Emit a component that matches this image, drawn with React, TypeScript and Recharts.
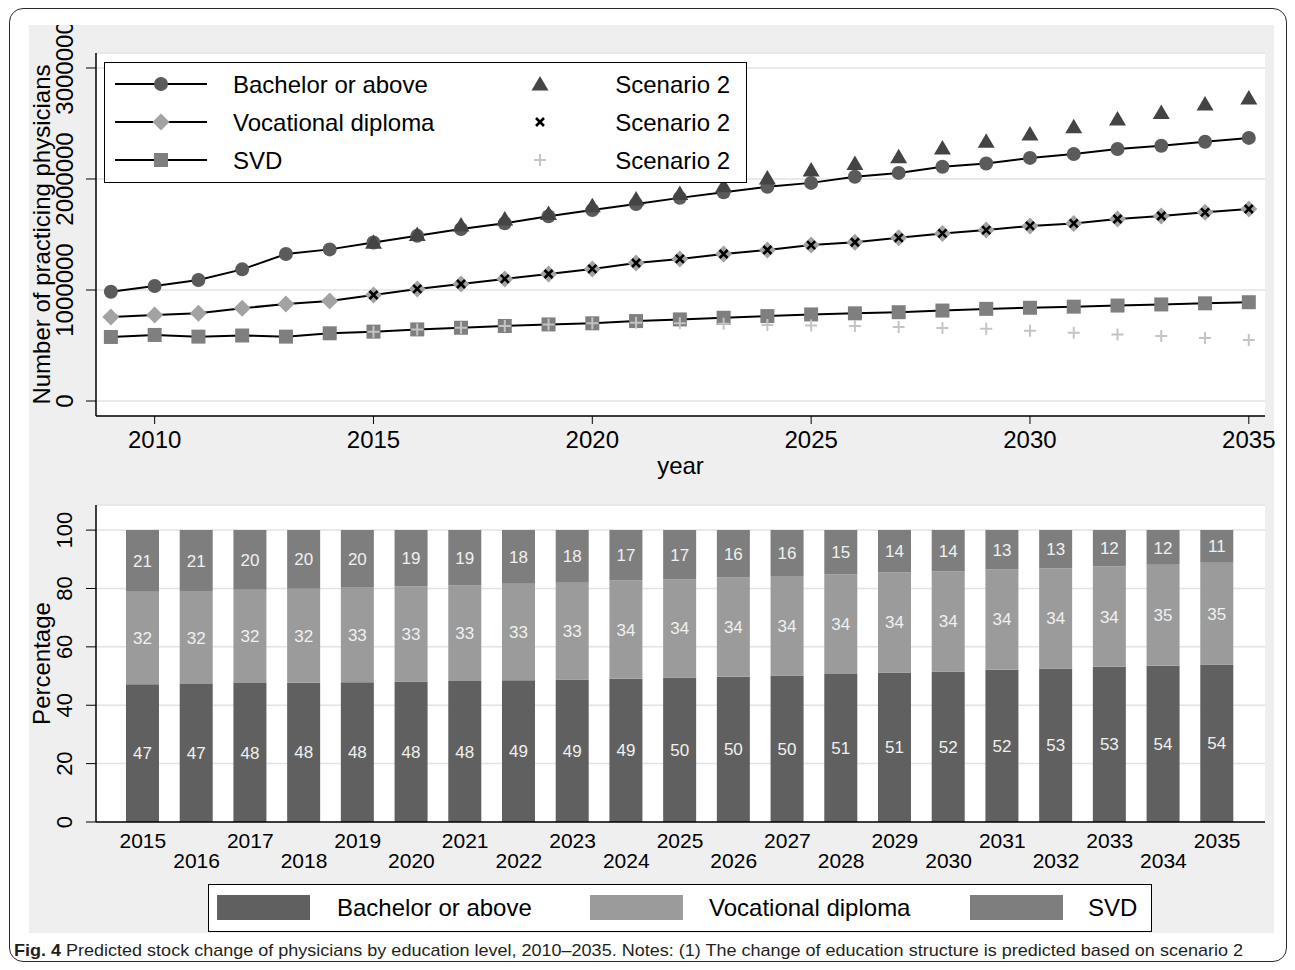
import React from "react";
import {
  LineChart,
  Line,
  BarChart,
  Bar,
  XAxis,
  YAxis,
  CartesianGrid,
  LabelList,
} from "recharts";

const FONT = '"Liberation Sans", Arial, Helvetica, sans-serif';

// ---- top panel: number of practicing physicians ----
const years = [
  2009, 2010, 2011, 2012, 2013, 2014, 2015, 2016, 2017, 2018, 2019, 2020, 2021, 2022,
  2023, 2024, 2025, 2026, 2027, 2028, 2029, 2030, 2031, 2032, 2033, 2034, 2035,
];
const bachelor = [
  984000, 1036000, 1090000, 1186000, 1324000, 1366000, 1428000, 1488000, 1550000,
  1602000, 1665000, 1720000, 1775000, 1830000, 1880000, 1930000, 1965000, 2020000,
  2055000, 2110000, 2140000, 2190000, 2225000, 2270000, 2300000, 2335000, 2370000,
];
const vocational = [
  757000, 775000, 790000, 835000, 875000, 900000, 955000, 1010000, 1054000, 1100000,
  1144000, 1190000, 1243000, 1280000, 1324000, 1360000, 1405000, 1430000, 1470000,
  1510000, 1540000, 1577000, 1600000, 1640000, 1667000, 1700000, 1730000,
];
const svd = [
  577000, 595000, 580000, 590000, 580000, 610000, 625000, 645000, 660000, 676000,
  690000, 700000, 720000, 735000, 750000, 765000, 780000, 790000, 800000, 815000,
  830000, 840000, 850000, 860000, 870000, 880000, 890000,
];

// scenario 2, 2015-2035
const scenarioYears = [
  2015, 2016, 2017, 2018, 2019, 2020, 2021, 2022, 2023, 2024, 2025, 2026, 2027, 2028,
  2029, 2030, 2031, 2032, 2033, 2034, 2035,
];
const bachelorS2 = [
  1430000, 1500000, 1585000, 1640000, 1690000, 1760000, 1820000, 1870000, 1940000,
  2010000, 2080000, 2140000, 2200000, 2280000, 2340000, 2405000, 2470000, 2540000,
  2600000, 2675000, 2730000,
];
const vocationalS2 = [
  955000, 1010000, 1054000, 1100000, 1144000, 1190000, 1243000, 1280000, 1324000,
  1360000, 1405000, 1430000, 1470000, 1510000, 1540000, 1577000, 1600000, 1640000,
  1667000, 1700000, 1730000,
];
const svdS2 = [
  625000, 645000, 660000, 675000, 690000, 700000, 705000, 700000, 695000, 685000,
  680000, 675000, 667000, 658000, 650000, 632000, 615000, 600000, 585000, 568000,
  550000,
];

const stockTicks = [0, 1000000, 2000000, 3000000];
const yearTicks = [2010, 2015, 2020, 2025, 2030, 2035];

// ---- bottom panel: education structure (%) ----
const barYears = [
  "2015", "2016", "2017", "2018", "2019", "2020", "2021", "2022", "2023", "2024", "2025",
  "2026", "2027", "2028", "2029", "2030", "2031", "2032", "2033", "2034", "2035",
];
const pctBachelor = [
  47.2, 47.3, 47.6, 47.7, 47.9, 48.1, 48.3, 48.6, 48.8, 49.1, 49.5, 49.8, 50.2, 50.7,
  51.2, 51.6, 52.2, 52.6, 53.2, 53.5, 54.0,
];
const pctVocational = [
  31.7, 31.8, 32.0, 32.2, 32.6, 32.7, 32.8, 33.0, 33.2, 33.6, 33.7, 34.0, 34.1, 34.1,
  34.4, 34.3, 34.4, 34.3, 34.4, 34.6, 34.8,
];
const pctSvd = [
  21.1, 20.9, 20.4, 20.1, 19.5, 19.2, 18.9, 18.4, 18.0, 17.3, 16.8, 16.2, 15.7, 15.2,
  14.4, 14.1, 13.4, 13.1, 12.4, 11.9, 11.2,
];
const pctTicks = [0, 20, 40, 60, 80, 100];

const stockData = years.map((year, i) => {
  const j = scenarioYears.indexOf(year);
  return {
    year,
    bachelor: bachelor[i],
    vocational: vocational[i],
    svd: svd[i],
    bachelorS2: j >= 0 ? bachelorS2[j] : null,
    vocationalS2: j >= 0 ? vocationalS2[j] : null,
    svdS2: j >= 0 ? svdS2[j] : null,
  };
});

const barData = barYears.map((year, i) => ({
  year,
  bachelor: pctBachelor[i],
  vocational: pctVocational[i],
  svd: pctSvd[i],
}));

// markers
type Pt = { cx: number; cy: number };
const CircleMark = ({ cx, cy }: Pt) => <circle cx={cx} cy={cy} r={7} fill="#5b5b5b" />;
const DiamondMark = ({ cx, cy }: Pt) => (
  <polygon
    points={`${cx},${cy - 8.5} ${cx + 8.5},${cy} ${cx},${cy + 8.5} ${cx - 8.5},${cy}`}
    fill="#a2a2a2"
  />
);
const SquareMark = ({ cx, cy }: Pt) => (
  <rect x={cx - 7} y={cy - 7} width={14} height={14} fill="#7f7f7f" />
);
const TriangleMark = ({ cx, cy }: Pt) => (
  <polygon
    points={`${cx},${cy - 8} ${cx + 8.5},${cy + 6.5} ${cx - 8.5},${cy + 6.5}`}
    fill="#444"
  />
);
const CrossMark = ({ cx, cy }: Pt) => (
  <path
    d={`M${cx - 4} ${cy - 4}L${cx + 4} ${cy + 4}M${cx + 4} ${cy - 4}L${cx - 4} ${cy + 4}`}
    stroke="#000"
    strokeWidth={2.6}
  />
);
const PlusMark = ({ cx, cy }: Pt) => (
  <path
    d={`M${cx - 6} ${cy}H${cx + 6}M${cx} ${cy - 6}V${cy + 6}`}
    stroke="#c4c4c4"
    strokeWidth={2}
  />
);

const lineDot = (Shape: (p: Pt) => React.ReactElement) => (p: any) => {
  if (!p || p.cx == null || p.cy == null || p.value == null)
    return <g key={`e-${p?.index}`} />;
  return <Shape key={`d-${p.index}`} cx={p.cx} cy={p.cy} />;
};

// rotated (Stata style) y tick labels
const RotTick = (p: any) => {
  const cx = 35;
  return (
    <text
      x={cx}
      y={p.y}
      dy="0.36em"
      transform={`rotate(-90 ${cx} ${p.y})`}
      textAnchor="middle"
      fontSize={p.size}
      fontFamily={FONT}
      fill="#000"
    >
      {p.payload.value}
    </text>
  );
};

const YearTick = (p: any) => (
  <text x={p.x} y={p.y + 22} textAnchor="middle" fontSize={24} fontFamily={FONT} fill="#000">
    {p.payload.value}
  </text>
);

const BarYearTick = (p: any) => {
  const row = p.index % 2 === 0 ? 18 : 38;
  return (
    <text
      x={p.x}
      y={p.y + row + 7.5}
      textAnchor="middle"
      fontSize={21}
      fontFamily={FONT}
      fill="#000"
    >
      {p.payload.value}
    </text>
  );
};

const yTitle = (text: string) => (props: any) => {
  const vb = props.viewBox || { x: 0, y: 0, width: 0, height: 0 };
  const x = vb.x + 12.5;
  const y = vb.y + vb.height / 2;
  return (
    <text
      x={x}
      y={y}
      transform={`rotate(-90 ${x} ${y})`}
      textAnchor="middle"
      dominantBaseline="central"
      fontSize={24}
      fontFamily={FONT}
      fill="#000"
    >
      {text}
    </text>
  );
};

const xTitle = (text: string) => (props: any) => {
  const vb = props.viewBox || { x: 0, y: 0, width: 0, height: 0 };
  return (
    <text
      x={vb.x + vb.width / 2}
      y={vb.y + 58}
      textAnchor="middle"
      fontSize={24}
      fontFamily={FONT}
      fill="#000"
    >
      {text}
    </text>
  );
};

const TopLegend = () => {
  const rows = [
    { label: "Bachelor or above", Mark: CircleMark, S2: TriangleMark },
    { label: "Vocational diploma", Mark: DiamondMark, S2: CrossMark },
    { label: "SVD", Mark: SquareMark, S2: PlusMark },
  ];
  return (
    <div
      style={{
        position: "absolute",
        left: 75,
        top: 37,
        width: 643,
        height: 121,
        boxSizing: "border-box",
        border: "1.5px solid #000",
        background: "#fff",
      }}
    >
      <svg width={640} height={118} style={{ display: "block" }}>
        {rows.map((r, i) => {
          const y = 21 + i * 38;
          return (
            <g key={r.label}>
              <line x1={10} x2={102} y1={y} y2={y} stroke="#000" strokeWidth={2} />
              <r.Mark cx={56} cy={y} />
              <text x={128} y={y + 8.5} fontSize={24} fontFamily={FONT} fill="#000">
                {r.label}
              </text>
              <r.S2 cx={435} cy={y} />
              <text
                x={625}
                y={y + 8.5}
                textAnchor="end"
                fontSize={24}
                fontFamily={FONT}
                fill="#000"
              >
                Scenario 2
              </text>
            </g>
          );
        })}
      </svg>
    </div>
  );
};

const BottomLegend = () => {
  const items = [
    { label: "Bachelor or above", color: "#606060", sx: 8, tx: 128 },
    { label: "Vocational diploma", color: "#9b9b9b", sx: 381, tx: 500 },
    { label: "SVD", color: "#7e7e7e", sx: 761, tx: 879 },
  ];
  return (
    <div
      style={{
        position: "absolute",
        left: 179,
        top: 859,
        width: 944,
        height: 48,
        boxSizing: "border-box",
        border: "1.5px solid #000",
        background: "#fff",
      }}
    >
      <svg width={941} height={45} style={{ display: "block" }}>
        {items.map((it) => (
          <g key={it.label}>
            <rect x={it.sx} y={10} width={93} height={25} fill={it.color} />
            <text x={it.tx} y={31} fontSize={24} fontFamily={FONT} fill="#000">
              {it.label}
            </text>
          </g>
        ))}
      </svg>
    </div>
  );
};

export default function App() {
  return (
    <div style={{ position: "relative", width: 1279, height: 954, fontFamily: FONT }}>
      <style>{`.recharts-surface { overflow: visible; }`}</style>
      <div
        style={{
          position: "absolute",
          left: 1,
          top: 0,
          width: 1278,
          height: 954,
          boxSizing: "border-box",
          border: "1.5px solid #2b2b2b",
          borderRadius: 14,
        }}
      />
      <div
        style={{
          position: "absolute",
          left: 21,
          top: 17,
          width: 1245,
          height: 908,
          background: "#efefef",
          clipPath: "inset(0px -12px -12px -12px)",
        }}
      >
        <div style={{ position: "absolute", left: 0, top: 0 }}>
          <LineChart
            width={1245}
            height={470}
            data={stockData}
            margin={{ top: 28, right: 9, left: 0, bottom: 19 }}
          >
            <CartesianGrid vertical={false} stroke="#e3e3e3" strokeWidth={1.5} fill="#fff" />
            <XAxis
              dataKey="year"
              type="number"
              domain={[2008.66, 2035.37]}
              ticks={yearTicks}
              allowDataOverflow
              stroke="#000"
              axisLine={{ strokeWidth: 1.5 }}
              tickSize={8}
              tick={(p: any) => <YearTick {...p} />}
              height={60}
              label={xTitle("year")}
            />
            <YAxis
              type="number"
              domain={[-135000, 3135000]}
              ticks={stockTicks}
              allowDataOverflow
              width={67}
              stroke="#000"
              axisLine={{ strokeWidth: 1.5 }}
              tickSize={10}
              tick={(p: any) => <RotTick {...p} size={24} />}
              label={yTitle("Number of practicing physicians")}
            />
            <Line
              dataKey="bachelor"
              stroke="#000"
              strokeWidth={2}
              dot={lineDot(CircleMark)}
              activeDot={false}
              isAnimationActive={false}
            />
            <Line
              dataKey="vocational"
              stroke="#000"
              strokeWidth={2}
              dot={lineDot(DiamondMark)}
              activeDot={false}
              isAnimationActive={false}
            />
            <Line
              dataKey="svd"
              stroke="#000"
              strokeWidth={2}
              dot={lineDot(SquareMark)}
              activeDot={false}
              isAnimationActive={false}
            />
            <Line
              dataKey="bachelorS2"
              stroke="none"
              dot={lineDot(TriangleMark)}
              activeDot={false}
              isAnimationActive={false}
            />
            <Line
              dataKey="vocationalS2"
              stroke="none"
              dot={lineDot(CrossMark)}
              activeDot={false}
              isAnimationActive={false}
            />
            <Line
              dataKey="svdS2"
              stroke="none"
              dot={lineDot(PlusMark)}
              activeDot={false}
              isAnimationActive={false}
            />
          </LineChart>
        </div>
        <TopLegend />

        <div style={{ position: "absolute", left: 0, top: 470 }}>
          <BarChart
            width={1245}
            height={438}
            data={barData}
            margin={{ top: 10, right: 9, left: 0, bottom: 61 }}
          >
            <CartesianGrid vertical={false} stroke="#e3e3e3" strokeWidth={1.5} fill="#fff" />
            <XAxis
              dataKey="year"
              interval={0}
              padding={{ left: 20, right: 21 }}
              stroke="#000"
              axisLine={{ strokeWidth: 1.5 }}
              tickLine={false}
              tickSize={0}
              tickMargin={0}
              tick={(p: any) => <BarYearTick {...p} />}
              height={50}
            />
            <YAxis
              type="number"
              domain={[0, 108.6]}
              ticks={pctTicks}
              allowDataOverflow
              width={67}
              stroke="#000"
              axisLine={{ strokeWidth: 1.5 }}
              tickSize={10}
              tick={(p: any) => <RotTick {...p} size={22} />}
              label={yTitle("Percentage")}
            />
            <Bar dataKey="bachelor" stackId="a" fill="#606060" barSize={33} isAnimationActive={false}>
              <LabelList
                dataKey="bachelor"
                position="center"
                formatter={(v: any) => Math.round(Number(v))}
                fill="#f0f0f0"
                fontSize={17}
                fontFamily={FONT}
              />
            </Bar>
            <Bar dataKey="vocational" stackId="a" fill="#9b9b9b" barSize={33} isAnimationActive={false}>
              <LabelList
                dataKey="vocational"
                position="center"
                formatter={(v: any) => Math.round(Number(v))}
                fill="#f0f0f0"
                fontSize={17}
                fontFamily={FONT}
              />
            </Bar>
            <Bar dataKey="svd" stackId="a" fill="#7e7e7e" barSize={33} isAnimationActive={false}>
              <LabelList
                dataKey="svd"
                position="center"
                formatter={(v: any) => Math.round(Number(v))}
                fill="#f0f0f0"
                fontSize={17}
                fontFamily={FONT}
              />
            </Bar>
          </BarChart>
        </div>
        <BottomLegend />
      </div>

      <svg
        width={1279}
        height={22}
        style={{ position: "absolute", left: 0, top: 931 }}
      >
        <text
          x={6}
          y={17}
          textLength={1229}
          lengthAdjust="spacingAndGlyphs"
          fontSize={17}
          fontFamily='"Liberation Sans Narrow", "Liberation Sans", Arial, sans-serif'
          fill="#231f20"
        >
          <tspan fontWeight="bold">Fig. 4</tspan> Predicted stock change of physicians by
          education level, 2010–2035. Notes: (1) The change of education structure is
          predicted based on scenario 2
        </text>
      </svg>
    </div>
  );
}
